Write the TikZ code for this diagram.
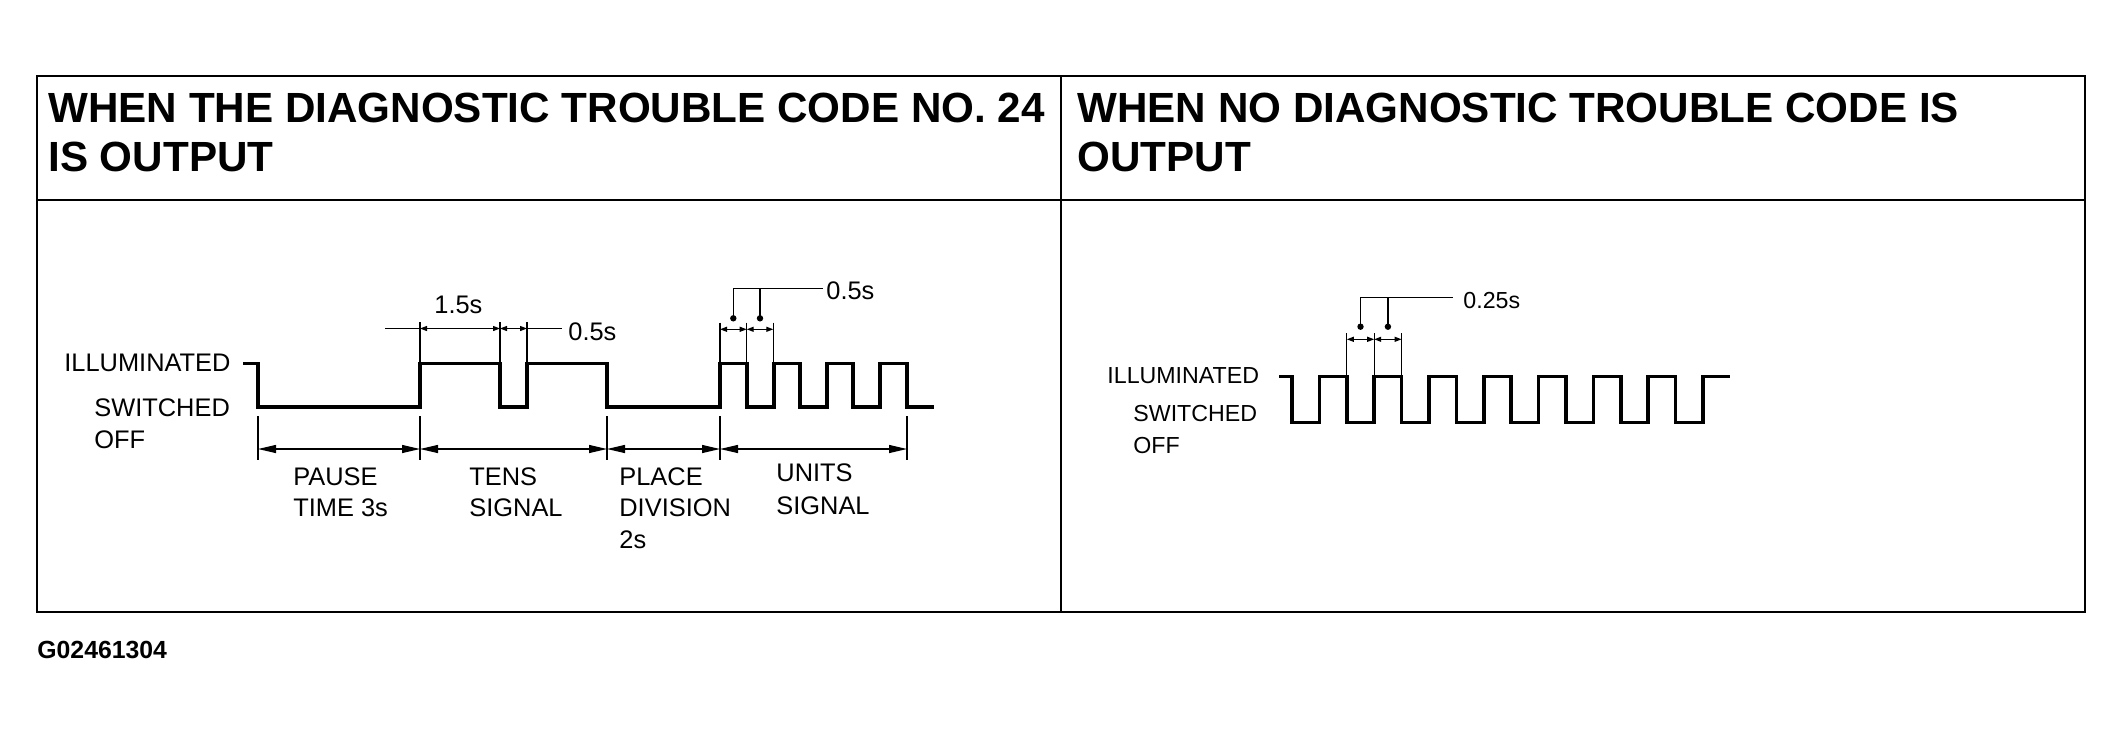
\documentclass[tikz,border=0pt]{standalone}
\usepackage{fontspec}
\setmainfont{Liberation Sans}
\usetikzlibrary{arrows.meta}
\tikzset{
  frame/.style={line width=1.25pt},
  thinframe/.style={line width=0.6pt},
  wave/.style={line width=1.75pt, line join=miter},
  ext/.style={line width=0.6pt},
  dimline/.style={line width=0.6pt},
  leader/.style={line width=0.8pt},
  bigdim/.style={line width=0.6pt, >={Triangle[length=9pt,width=4pt]}, <->},
  smalldim/.style={line width=0.6pt, >={Triangle[length=3.5pt,width=2.5pt]}, <->},
  hdr/.style={inner sep=0pt, anchor=base west, font=\bfseries\fontsize{21.1}{24.5}\selectfont},
  lbl/.style={inner sep=0pt, anchor=base west, font=\fontsize{12.7}{15}\selectfont},
  rlbl/.style={inner sep=0pt, anchor=base west, font=\fontsize{11.6}{14}\selectfont},
  code/.style={inner sep=0pt, anchor=base west, font=\bfseries\fontsize{12.4}{15}\selectfont},
  dot/.style={circle, fill=black, inner sep=0pt, minimum size=3.2pt}
}
\begin{document}
\begin{tikzpicture}[x=0.5pt,y=-0.5pt]
\useasboundingbox (0,0) rectangle (2124,734);
% frame
\draw[frame] (37,76) rectangle (2085,612);
\draw[thinframe] (37,200) -- (2085,200);
\draw[line width=1pt] (1061,76) -- (1061,612);
% headers
\node[hdr] (h1a) at (48,122) {WHEN THE DIAGNOSTIC TROUBLE CODE NO. 24};
\node[hdr] (h1b) at (48,171) {IS OUTPUT};
\node[hdr] (h2a) at (1077,122) {WHEN NO DIAGNOSTIC TROUBLE CODE IS};
\node[hdr] (h2b) at (1077,171) {OUTPUT};
\node[code] (gcode) at (37,658) {G02461304};

% ---------- left panel ----------
\node[lbl] (ill) at (64,371) {ILLUMINATED};
\node[lbl] (sw) at (94,416) {SWITCHED};
\node[lbl] (off) at (94,448) {OFF};

\draw[wave] (243,363.5) -- (258,363.5) -- (258,407) -- (420,407) -- (420,363.5)
  -- (500,363.5) -- (500,407) -- (527,407) -- (527,363.5) -- (607,363.5)
  -- (607,407) -- (720,407) -- (720,363.5) -- (747,363.5) -- (747,407)
  -- (774,407) -- (774,363.5) -- (800,363.5) -- (800,407) -- (827,407)
  -- (827,363.5) -- (853,363.5) -- (853,407) -- (880,407) -- (880,363.5)
  -- (907,363.5) -- (907,407) -- (934,407);

% bottom extension lines and dimensions
\foreach \x/\n in {258/a,420/b,607/c,720/d,907/e}{
  \draw[ext] (\x,416) -- (\x,460);
  \coordinate (b\n) at (\x,449);
}
\draw[bigdim] (ba) -- (bb);
\draw[bigdim] (bb) -- (bc);
\draw[bigdim] (bc) -- (bd);
\draw[bigdim] (bd) -- (be);

\node[lbl] (pause1) at (293,485) {PAUSE};
\node[lbl] (pause2) at (293,516.7) {TIME 3s};
\node[lbl] (tens1) at (469,485) {TENS};
\node[lbl] (tens2) at (469,516.7) {SIGNAL};
\node[lbl] (pl1) at (619,485) {PLACE};
\node[lbl] (pl2) at (619,516.7) {DIVISION};
\node[lbl] (pl3) at (619,548) {2s};
\node[lbl] (un1) at (776,481) {UNITS};
\node[lbl] (un2) at (776,514) {SIGNAL};

% top dimension 1.5s / 0.5s
\foreach \x/\n in {420/a,500/b,527/c}{
  \draw[ext] (\x,322) -- (\x,362);
  \coordinate (t\n) at (\x,328.5);
}
\coordinate (tl) at (385,328.5);
\coordinate (tr) at (562,328.5);
\draw[dimline] (tl) -- (ta);
\draw[dimline] (tc) -- (tr);
\draw[smalldim] (ta) -- (tb);
\draw[smalldim] (tb) -- (tc);
\node[lbl] (t15) at (434,313) {1.5s};
\node[lbl] (t05) at (568,340) {0.5s};

% units dimension 0.5s
\foreach \x/\n in {720/a,746.7/b,773.3/c}{
  \draw[ext] (\x,322.7) -- (\x,362);
  \coordinate (u\n) at (\x,329.3);
}
\draw[smalldim] (ua) -- (ub);
\draw[smalldim] (ub) -- (uc);
\node[dot] (ud1) at (733.3,318.3) {};
\node[dot] (ud2) at (760,318.3) {};
\node[lbl] (u05) at (826,299.5) {0.5s};
\coordinate (uk1) at (733.3,288.3);
\coordinate (uk2) at (760,288.3);
\draw[leader] (ud1.center) -- (uk1) -- ([xshift=-1.5pt]u05.west |- uk1);
\draw[leader] (ud2.center) -- (uk2);

% ---------- right panel ----------
\node[rlbl] (rill) at (1107,383) {ILLUMINATED};
\node[rlbl] (rsw) at (1133,421.5) {SWITCHED};
\node[rlbl] (roff) at (1133,453) {OFF};

\draw[wave] (1279,376.7) -- (1292,376.7)
  -- (1292,422.3) -- (1319.4,422.3) -- (1319.4,376.7) -- (1346.8,376.7)
  -- (1346.8,422.3) -- (1374.2,422.3) -- (1374.2,376.7) -- (1401.6,376.7)
  -- (1401.6,422.3) -- (1429,422.3) -- (1429,376.7) -- (1456.4,376.7)
  -- (1456.4,422.3) -- (1483.8,422.3) -- (1483.8,376.7) -- (1511.2,376.7)
  -- (1511.2,422.3) -- (1538.6,422.3) -- (1538.6,376.7) -- (1566,376.7)
  -- (1566,422.3) -- (1593.4,422.3) -- (1593.4,376.7) -- (1620.8,376.7)
  -- (1620.8,422.3) -- (1648.2,422.3) -- (1648.2,376.7) -- (1675.6,376.7)
  -- (1675.6,422.3) -- (1703,422.3) -- (1703,376.7) -- (1730,376.7);

\foreach \x/\n in {1346.8/a,1374.2/b,1401.6/c}{
  \draw[ext] (\x,333) -- (\x,375);
  \coordinate (r\n) at (\x,339.3);
}
\draw[smalldim] (ra) -- (rb);
\draw[smalldim] (rb) -- (rc);
\node[dot] (rd1) at (1360.5,326.7) {};
\node[dot] (rd2) at (1387.9,326.7) {};
\node[rlbl] (r025) at (1463,308) {0.25s};
\coordinate (rk1) at (1360.5,297.3);
\coordinate (rk2) at (1387.9,297.3);
\draw[leader] (rd1.center) -- (rk1) -- ([xshift=-5pt]r025.west |- rk1);
\draw[leader] (rd2.center) -- (rk2);
\end{tikzpicture}
\end{document}
